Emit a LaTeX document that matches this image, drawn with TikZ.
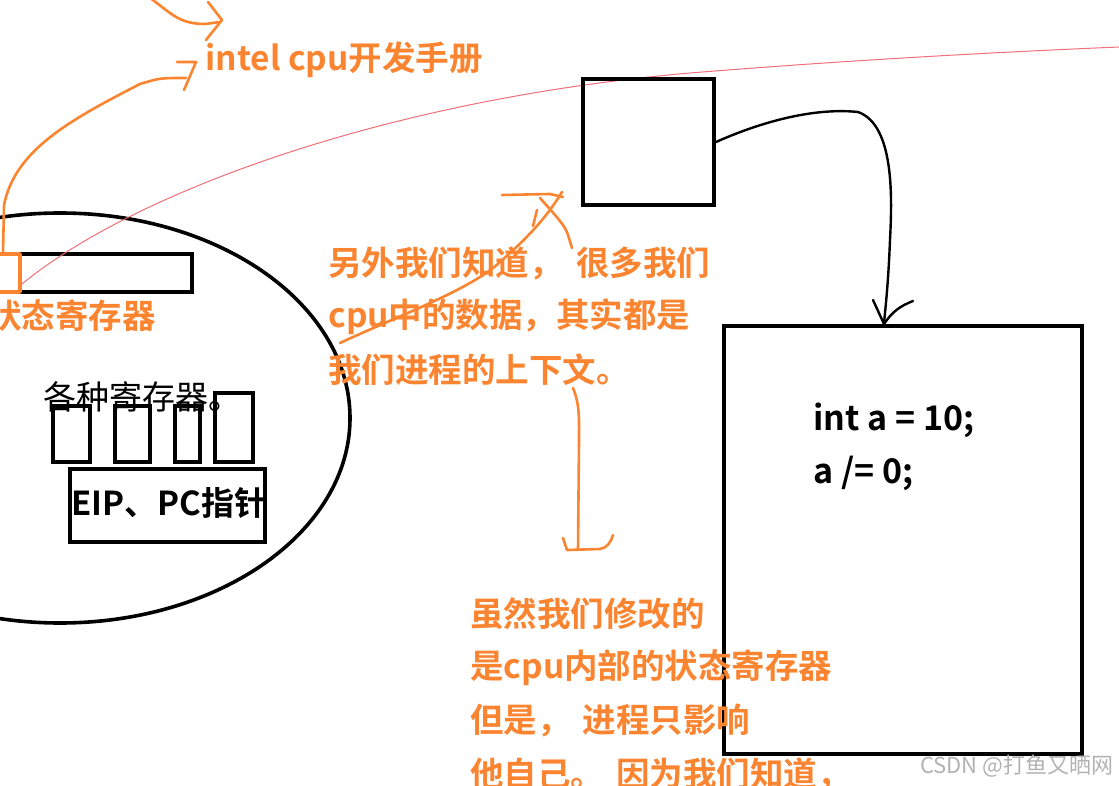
\documentclass[tikz,border=0pt]{standalone}
\usepackage{fontspec}
\setmainfont{Noto Sans CJK SC}[BoldFont={Noto Sans CJK SC Bold}]
\definecolor{penorange}{RGB}{250,132,48}
\definecolor{penred}{RGB}{240,110,120}
\definecolor{markgray}{RGB}{178,178,178}
\tikzset{
  ink/.style={penorange, line width=1.3pt, line cap=round, line join=round},
  box/.style={draw, line width=2pt},
  note/.style={text=penorange, font=\bfseries\fontsize{16.75}{20}\selectfont, anchor=west, inner sep=0pt},
  plain/.style={font=\fontsize{16.5}{20}\selectfont, anchor=west, inner sep=0pt},
  codeline/.style={font=\bfseries\fontsize{17}{20}\selectfont, anchor=base west, inner sep=0pt},
}

\begin{document}
\begin{tikzpicture}[x=0.5pt, y=-0.5pt]
        \useasboundingbox (0,0) rectangle (1119,786);
        % cpu
        \draw[line width=1.8pt] (60,418) ellipse (290 and 205);
        \draw[box] (20,254) rectangle (192,292);
        \draw[ink, line width=1.7pt] (-3,254) rectangle (20,292);
        \node[note] (statusreg) at (-12,316) {状态寄存器};
        \node[plain] (regs) at (43,397) {各种寄存器。};
        \draw[line width=1.7pt] (53,406) rectangle (90,462);
        \draw[line width=1.7pt] (115,406) rectangle (150,462);
        \draw[line width=1.7pt] (175,406) rectangle (200,462);
        \draw[line width=1.7pt] (215,393) rectangle (253,462);
        \draw[box] (70,469) rectangle (265,542);
        \node[plain, font=\bfseries\fontsize{16.5}{20}\selectfont] (eip) at (71,503) {EIP、PC指针};
        % manual
        \node[note] (manual) at (205,60) {intel cpu开发手册};
        \draw[ink] (3,254) -- (4,205) .. controls (15,150) and (70,120) .. (140,84) .. controls (160,78) .. (186,78);
        \draw[ink] (177,62) -- (196,62) -- (184,90);
        \draw[ink] (150,-2) .. controls (170,12) and (178,24) .. (205,24) -- (220,22);
        \draw[ink] (208,2) -- (222,20) -- (206,40);
        % red line
        \draw[penred, line width=0.5pt] (22,284) .. controls (130,195) and (380,100) .. (690,73) .. controls (850,60) and (1000,52) .. (1119,47);
        % process
        \node[box, minimum width=65.5pt, minimum height=63pt, inner sep=0pt] (ctx) at (648.5,142) {};
        \node[box, minimum width=179pt, minimum height=214pt, inner sep=0pt] (code) at (903,540) {};
        \node[codeline] (codeA) at (813,430) {int a = 10;};
        \node[codeline] (codeB) at (813,483) {a /= 0;};
        \coordinate (tip) at (884,324);
        \draw[line width=1.2pt, line cap=round] (ctx.east) .. controls (770,118) and (820,108) .. (858,112) .. controls (895,125) and (892,200) .. (890,240) .. controls (888,290) and (885,310) .. (tip);
        \draw[line width=1.2pt, line cap=round] (873,300) -- (tip) .. controls (892,312) and (900,306) .. (913,301);
        % notes
        \foreach \txt [count=\i] in {另外我们知道，\hspace{0.4em}很多我们, cpu中的数据，其实都是, 我们进程的上下文。}
          \node[note] (ctxnote\i) at (328,{263+53.5*(\i-1)}) {\txt};
        \draw[ink] (340,343) .. controls (400,315) and (470,290) .. (500,262) .. controls (525,240) and (545,220) .. (562,192);
        \draw[ink] (502,195) -- (550,194) -- (563,197);
        \draw[ink] (540,198) .. controls (555,215) and (565,225) .. (568,235) -- (572,248);
        \draw[ink] (537,210) -- (533,226);
        \draw[ink] (573,388) .. controls (580,405) and (579,420) .. (579,440) -- (578,550);
        \draw[ink] (563,538) -- (567,550) -- (600,549) .. controls (607,548) and (611,542) .. (613,535);
        \foreach \txt [count=\i] in {虽然我们修改的, 是cpu内部的状态寄存器, 但是，\hspace{0.35em}进程只影响, 他自己。\hspace{0.35em}因为我们知道，}
          \node[note] (regnote\i) at (470,{614+53.5*(\i-1)}) {\txt};
        \node[anchor=base east, inner sep=0pt, text=markgray, font=\fontsize{11}{13}\selectfont] (mark) at (1114,773) {CSDN @打鱼又晒网};
\end{tikzpicture}
\end{document}
